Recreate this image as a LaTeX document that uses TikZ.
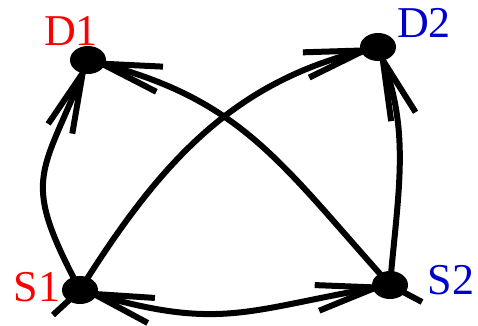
\documentclass[tikz,border=0pt]{standalone}
\usepackage{fontspec}
\setmainfont{Liberation Serif}
\usetikzlibrary{arrows.meta,shapes.geometric}
\definecolor{labblue}{RGB}{0,0,204}

\begin{document}
\begin{tikzpicture}[x=1pt, y=1pt, line width=6pt,
  >={Straight Barb[length=60pt, width=26pt]},
  dot/.style={ellipse, fill=black, inner sep=0pt, minimum width=36pt, minimum height=28pt},
  lab/.style={font=\fontsize{44}{44}\selectfont, inner sep=0pt}]
  \useasboundingbox (0,0) rectangle (478,325);
  % sources and destinations
  \node[dot] (d1) at (88,265) {};
  \node[dot] (d2) at (378,278) {};
  \node[dot] (s1) at (80,35) {};
  \node[dot] (s2) at (390,40) {};
  \node[lab, red] (d1lab) at (71,294) {D1};
  \node[lab, labblue] (d2lab) at (424,302) {D2};
  \node[lab, red] (s1lab) at (37,38) {S1};
  \node[lab, labblue] (s2lab) at (451,45) {S2};
  % tails sticking out behind the sources
  \coordinate (s1tail) at (53,10);
  \coordinate (s2tail) at (422,23);
  \draw (s1tail) -- (s1.center);
  \draw (s2tail) -- (s2.center);
  % links
  \draw[->] (s1.center) to[out=118, in=248, looseness=1.4] (d1.center);
  \draw[->] (s1.center) to[out=58, in=194] (d2.center);
  \draw[->] (s2.center) to[out=132, in=345, looseness=1.1] (d1.center);
  \draw[->] (s2.center) to[out=85, in=290] (d2.center);
  \draw[<->] (s1.center) to[out=-16, in=190, looseness=1.2] (s2.center);
\end{tikzpicture}
\end{document}
